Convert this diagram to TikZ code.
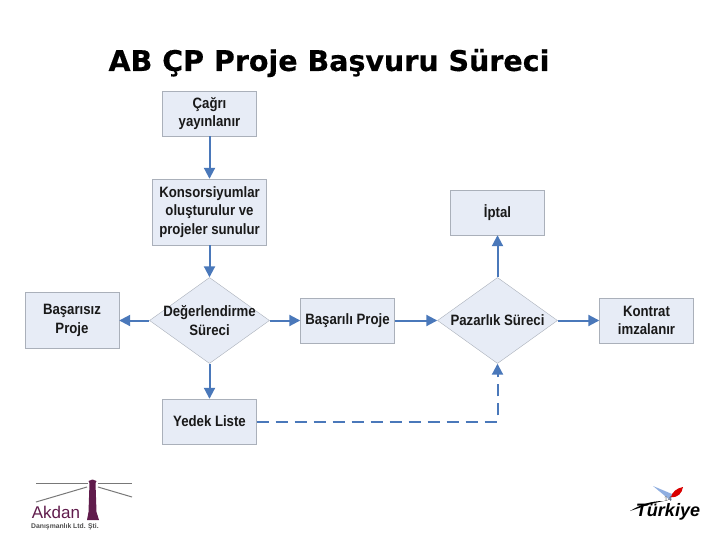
\documentclass[tikz,border=0pt]{standalone}
\usepackage{fontspec}
\usepackage{xcolor}
\setmainfont{Liberation Sans}
\newfontfamily\labelfont[FakeStretch=0.88]{Liberation Sans}
\newfontfamily\titlefont[FakeBold=0.35]{DejaVu Sans Bold}
\usetikzlibrary{shapes.geometric, arrows.meta, positioning}
\definecolor{boxfill}{RGB}{231, 236, 246}
\definecolor{boxline}{RGB}{170, 176, 186}
\definecolor{flow}{RGB}{74, 120, 186}
\definecolor{tower}{RGB}{96, 28, 76}
\definecolor{beam}{RGB}{120, 120, 120}
\newcommand{\clapline}[1]{\makebox[0pt]{#1}}

\begin{document}
\begin{tikzpicture}[
    x=1pt, y=-1pt,
    box/.style={rectangle, draw=boxline, fill=boxfill, minimum width=94pt, minimum height=45pt, inner sep=0pt, align=center, font=\labelfont\fontsize{15}{18.5}\selectfont\bfseries, text=black!90},
    decision/.style={diamond, draw=boxline, fill=boxfill, minimum width=120pt, minimum height=86pt, inner sep=0pt, align=center, font=\labelfont\fontsize{15}{18.5}\selectfont\bfseries, text=black!90},
    link/.style={draw=flow, line width=2pt, -{Triangle[length=11pt, width=11pt]}}
]
\useasboundingbox (0,0) rectangle (720,540);
\node[font=\titlefont\fontsize{28.5}{32}\selectfont, text=black] (title) at (329,63) {AB ÇP Proje Başvuru Süreci};
\node[box] (call) at (209.5,113.5) {Çağrı\\yayınlanır};
\node[box, minimum width=114pt, minimum height=66pt] (cons) at (209.5,212) {Konsorsiyumlar\\oluşturulur ve\\projeler sunulur};
\node[decision] (eval) at (209.5,320.5) {\clapline{Değerlendirme}\\\clapline{Süreci}};
\node[box, minimum height=56pt] (fail) at (72,320.5) {Başarısız\\Proje};
\node[box] (pass) at (347.5,320.5) {Başarılı Proje};
\node[decision] (nego) at (497.5,320.5) {\clapline{Pazarlık Süreci}};
\node[box] (sign) at (646.5,320.5) {Kontrat\\imzalanır};
\node[box] (cancel) at (497.5,212.5) {İptal};
\node[box] (reserve) at (209.5,421.5) {Yedek Liste};

\draw[link] (call) -- (cons);
\draw[link] (cons) -- (eval);
\draw[link] (eval) -- (fail);
\draw[link] (eval) -- (pass);
\draw[link] (eval) -- (reserve);
\draw[link] (pass) -- (nego);
\draw[link] (nego) -- (sign);
\draw[link] (nego) -- (cancel);
\draw[link, dash pattern=on 12pt off 7pt] (reserve) -- (nego |- reserve) -- (nego);

% left logo
\draw[beam, line width=1pt] (36,483.5) -- (88,483.5) (98,483.5) -- (132,483.5);
\draw[beam, line width=1pt] (36,502) -- (87,487) (98,487) -- (132,497);
\fill[tower] (87,520) -- (88.5,512) -- (89.5,483) -- (88.5,481) -- (92.5,479.5) -- (96.5,481) -- (95.5,483) -- (96.5,512) -- (99,520) -- cycle;
\node[font=\fontsize{17}{17}\selectfont, text=tower, inner sep=0pt] (akdan) at (56,512.5) {Akdan};
\node[font=\fontsize{6.8}{7}\selectfont\bfseries, text=black!70, inner sep=0pt] (firm) at (65,527) {Danışmanlık Ltd. Şti.};

% right logo
\fill[cyan!50!blue!45] (653,486) -- (672,494) -- (671,501) -- cycle;
\fill[red!85!black] (671,497) .. controls (672,492) and (677,488) .. (683,487) .. controls (682,493) and (678,498) .. (671,497) -- cycle;
\fill[black] (630,511) .. controls (640,505) and (650,501) .. (664,501) .. controls (652,503) and (642,507) .. (630,511) -- cycle;
\node[font=\fontsize{18}{18}\selectfont\itshape\bfseries, text=black, inner sep=0pt] (brand) at (668,512) {Türkiye};
\node[font=\fontsize{7}{7}\selectfont, text=black!60, inner sep=0pt] (page) at (668,499) {14};
\end{tikzpicture}
\end{document}
